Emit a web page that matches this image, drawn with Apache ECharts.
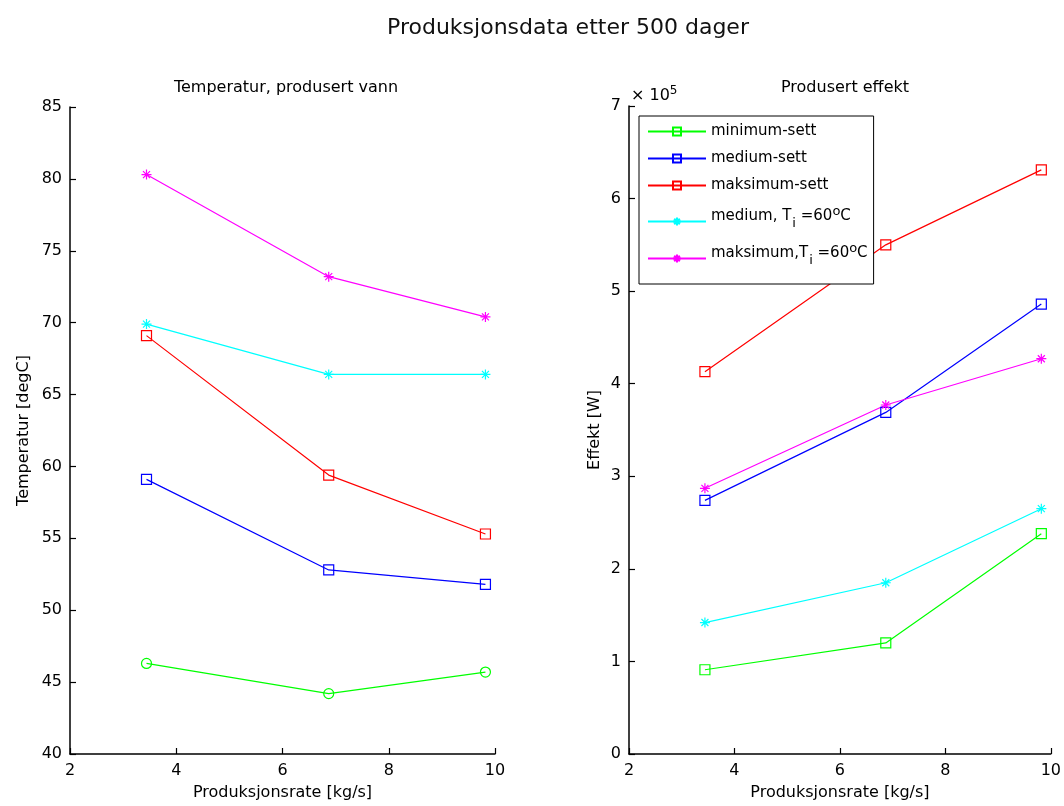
<!DOCTYPE html>
<html>
<head>
<meta charset="utf-8">
<script src="https://cdn.jsdelivr.net/npm/echarts@6/dist/echarts.min.js"></script>
<style>html,body{margin:0;padding:0;background:#fff}#c{width:1064px;height:806px}</style>
</head>
<body>
<div id="c"></div>
<script>
// ---- data ----
var rate = [3.44, 6.87, 9.82];
var seriesNames = ['minimum-sett', 'medium-sett', 'maksimum-sett', 'medium, T_i =60^oC', 'maksimum,T_i =60^oC'];
var seriesColors = ['#00ff00', '#0000ff', '#ff0000', '#00ffff', '#ff00ff'];
// Temperatur [degC]
var tempMin = [46.3, 44.2, 45.7];
var tempMed = [59.1, 52.8, 51.8];
var tempMax = [69.1, 59.4, 55.3];
var tempMedTi = [69.9, 66.4, 66.4];
var tempMaxTi = [80.3, 73.2, 70.4];
// Effekt [W]
var effMin = [91000, 120000, 238000];
var effMed = [274000, 369000, 486000];
var effMax = [413000, 550000, 631000];
var effMedTi = [142000, 185000, 265000];
var effMaxTi = [287000, 377000, 427000];

var FONT = 'DejaVu Sans';
var asterisk = 'path://M5,0L5,10M0,5L10,5M1.5,1.5L8.5,8.5M1.5,8.5L8.5,1.5';
var symbolsRight = ['rect', 'rect', 'rect', asterisk, asterisk];
var symbolsLeft = ['circle', 'rect', 'rect', asterisk, asterisk];

function pairs(ys) { return rate.map(function (x, i) { return [x, ys[i]]; }); }

function mk(name, idx, data, grid, sym) {
  var c = seriesColors[idx];
  return {
    type: 'line', name: name, xAxisIndex: grid, yAxisIndex: grid,
    data: pairs(data), symbol: sym, symbolSize: 10, showSymbol: true,
    lineStyle: { color: c, width: 1.2 },
    itemStyle: { color: sym === asterisk ? c : 'rgba(255,255,255,0)', borderColor: c, borderWidth: 1.2 },
    emphasis: { disabled: true }, animation: false, z: 3
  };
}

var rightData = [effMin, effMed, effMax, effMedTi, effMaxTi];
var leftData = [tempMin, tempMed, tempMax, tempMedTi, tempMaxTi];
var series = [];
rightData.forEach(function (d, i) { series.push(mk(seriesNames[i], i, d, 1, symbolsRight[i])); });
leftData.forEach(function (d, i) { series.push(mk(seriesNames[i], i, d, 0, symbolsLeft[i])); });

function axisCommon() {
  return {
    axisLine: { show: true, onZero: false, lineStyle: { color: '#000', width: 1.5 } },
    axisTick: { show: true, inside: true, length: 6, lineStyle: { color: '#000', width: 1.2 } },
    axisLabel: { color: '#000', fontFamily: FONT, fontSize: 16 },
    splitLine: { show: false },
    nameTextStyle: { color: '#000', fontFamily: FONT, fontSize: 16 }
  };
}
function xa(grid) {
  var a = Object.assign(axisCommon(), {
    type: 'value', gridIndex: grid, min: 2, max: 10, interval: 2,
    name: 'Produksjonsrate [kg/s]', nameLocation: 'middle', nameGap: 31
  });
  a.axisLabel.margin = 9;
  return a;
}

var yLeft = Object.assign(axisCommon(), {
  type: 'value', gridIndex: 0, min: 40, max: 85, interval: 5,
  name: 'Temperatur [degC]', nameLocation: 'middle', nameGap: 38
});
var yRight = Object.assign(axisCommon(), {
  type: 'value', gridIndex: 1, min: 0, max: 700000, interval: 100000,
  name: 'Effekt [W]', nameLocation: 'middle', nameGap: 26
});
yRight.axisLabel.formatter = function (v) { return String(Math.round(v / 100000)); };

var chart = echarts.init(document.getElementById('c'), null, { renderer: 'canvas' });
chart.setOption({
  backgroundColor: '#fff',
  animation: false,
  title: [
    { text: 'Produksjonsdata etter 500 dager', left: 563, textAlign: 'center', top: 12,
      textStyle: { fontFamily: FONT, fontSize: 22, fontWeight: 'normal', color: '#111' } },
    { text: 'Temperatur, produsert vann', left: 281, textAlign: 'center', top: 75,
      textStyle: { fontFamily: FONT, fontSize: 16, fontWeight: 'normal', color: '#000' } },
    { text: 'Produsert effekt', left: 840, textAlign: 'center', top: 75,
      textStyle: { fontFamily: FONT, fontSize: 16, fontWeight: 'normal', color: '#000' } },
    { text: '× 10{sup|5}', left: 626, top: 80,
      textStyle: { fontFamily: FONT, fontSize: 16, fontWeight: 'normal', color: '#000',
        rich: { sup: { fontFamily: FONT, fontSize: 12, verticalAlign: 'top', padding: [0, 0, 10, 0], color: '#000' } } } }
  ],
  grid: [
    { left: 70, right: 569, top: 107, bottom: 52 },
    { left: 629, right: 10, top: 106, bottom: 52 }
  ],
  xAxis: [xa(0), xa(1)],
  yAxis: [yLeft, yRight],
  legend: {
    orient: 'vertical', left: 639, top: 116,
    data: seriesNames,
    backgroundColor: '#fff', borderColor: '#000', borderWidth: 1,
    padding: [8, 6, 17, 8], itemGap: 12, itemWidth: 58, itemHeight: 10,
    selectedMode: false,
    textStyle: {
      fontFamily: FONT, fontSize: 15, color: '#000',
      rich: {
        t: { fontFamily: FONT, fontSize: 15, color: '#000', verticalAlign: 'middle', padding: [0, 0, 10, 0] },
        tt: { fontFamily: FONT, fontSize: 15, color: '#000', verticalAlign: 'middle', padding: [6, 0, 16, 0] },
        sub: { fontFamily: FONT, fontSize: 13, color: '#000', verticalAlign: 'middle', padding: [4, 0, 0, 1] },
        sup: { fontFamily: FONT, fontSize: 13, color: '#000', verticalAlign: 'middle', padding: [0, 0, 20, 0] }
      }
    },
    formatter: function (n) {
      if (n.indexOf('_i') < 0) return n;
      var m = n.match(/^(.*)_i(.*)\^o(.*)$/);
      var first = n.indexOf('maksimum') === 0 ? 'tt' : 't';
      return '{' + first + '|' + m[1] + '}{sub|i}{t|' + m[2] + '}{sup|o}{t|' + m[3] + '}';
    }
  },
  series: series
});
</script>
</body>
</html>
